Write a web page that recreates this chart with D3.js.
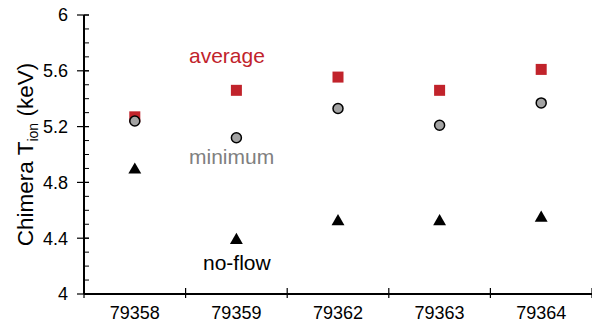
<!DOCTYPE html>
<html>
<head>
<meta charset="utf-8">
<script src="https://cdn.jsdelivr.net/npm/d3@7"></script>
<style>
  body { margin: 0; background: #fff; }
  svg { display: block; font-family: "Liberation Sans", Arial, sans-serif; }
</style>
</head>
<body>
<svg id="chart" width="592" height="326"></svg>
<script>
// Shot numbers and ion temperatures (keV)
const shots = ["79358", "79359", "79362", "79363", "79364"];
const average = [5.27, 5.46, 5.555, 5.46, 5.61];
const minimum = [5.24, 5.12, 5.33, 5.21, 5.37];
const noFlow = [4.89, 4.385, 4.52, 4.52, 4.545];
const yMajorTicks = [4, 4.4, 4.8, 5.2, 5.6, 6];
const yMinorTicks = d3.range(4, 6.0001, 0.1);

const svg = d3.select("#chart");
const plotLeft = 84, plotRight = 592, plotTop = 15, plotBottom = 294;

const x = d3.scaleBand().domain(shots).range([plotLeft, plotRight]);
const y = d3.scaleLinear().domain([4, 6]).range([plotBottom, plotTop]);

// Y axis: minor ticks inside, major ticks across the line
const yAxisG = svg.append("g");
yAxisG.selectAll("line.minor").data(yMinorTicks).join("line")
  .attr("class", "minor")
  .attr("x1", plotLeft).attr("x2", plotLeft + 5)
  .attr("y1", d => y(d)).attr("y2", d => y(d))
  .attr("stroke", "#000").attr("stroke-width", 1);
yAxisG.selectAll("line.major").data(yMajorTicks).join("line")
  .attr("class", "major")
  .attr("x1", plotLeft - 7).attr("x2", plotLeft + 5)
  .attr("y1", d => y(d)).attr("y2", d => y(d))
  .attr("stroke", "#000").attr("stroke-width", 1.2);
yAxisG.append("line")
  .attr("x1", plotLeft).attr("x2", plotLeft)
  .attr("y1", y(6)).attr("y2", y(4))
  .attr("stroke", "#000").attr("stroke-width", 2);
yAxisG.selectAll("text").data(yMajorTicks).join("text")
  .attr("x", 68).attr("y", d => y(d)).attr("dy", "0.35em")
  .attr("text-anchor", "end").attr("font-size", 18).attr("fill", "#000")
  .text(d => d3.format("~g")(d));

// X axis: ticks at category boundaries
const bounds = shots.map(s => x(s)).concat([x(shots[shots.length - 1]) + x.bandwidth()]);
const xAxisG = svg.append("g");
xAxisG.selectAll("line.tick").data(bounds).join("line")
  .attr("class", "tick")
  .attr("x1", d => d).attr("x2", d => d)
  .attr("y1", plotBottom - 6).attr("y2", plotBottom + 4)
  .attr("stroke", "#000").attr("stroke-width", 1.2);
xAxisG.append("line")
  .attr("x1", plotLeft).attr("x2", plotRight)
  .attr("y1", plotBottom).attr("y2", plotBottom)
  .attr("stroke", "#000").attr("stroke-width", 2);
xAxisG.selectAll("text").data(shots).join("text")
  .attr("x", d => x(d) + x.bandwidth() / 2).attr("y", 319)
  .attr("text-anchor", "middle").attr("font-size", 18).attr("fill", "#000")
  .text(d => d);

// Y axis title with subscript
const title = svg.append("text")
  .attr("transform", "translate(33," + ((plotTop + plotBottom) / 2) + ") rotate(-90)")
  .attr("text-anchor", "middle").attr("font-size", 22.5).attr("fill", "#000");
title.append("tspan").text("Chimera T");
title.append("tspan").attr("font-size", 14).attr("dy", 5).text("ion");
title.append("tspan").attr("dy", -5).text(" (keV)");

const cx = d => x(d) + x.bandwidth() / 2;

// Average: red squares
const sq = 11;
svg.append("g").selectAll("rect").data(shots).join("rect")
  .attr("x", d => cx(d) - sq / 2)
  .attr("y", (d, i) => y(average[i]) - sq / 2)
  .attr("width", sq).attr("height", sq)
  .attr("fill", "#c1232b");

// Minimum: grey circles
svg.append("g").selectAll("circle").data(shots).join("circle")
  .attr("cx", cx)
  .attr("cy", (d, i) => y(minimum[i]))
  .attr("r", 5)
  .attr("fill", "#a3a3a3").attr("stroke", "#000").attr("stroke-width", 1.5);

// No-flow: black triangles
const tri = d3.symbol().type(d3.symbolTriangle).size(72);
svg.append("g").selectAll("path").data(shots).join("path")
  .attr("transform", (d, i) => "translate(" + cx(d) + "," + y(noFlow[i]) + ")")
  .attr("d", tri)
  .attr("fill", "#000");

// Series labels
svg.append("text").attr("x", 189).attr("y", 63).attr("font-size", 21)
  .attr("fill", "#c1232b").text("average");
svg.append("text").attr("x", 189).attr("y", 164).attr("font-size", 21)
  .attr("fill", "#808080").text("minimum");
svg.append("text").attr("x", 203).attr("y", 270).attr("font-size", 21)
  .attr("fill", "#000").text("no-flow");
</script>
</body>
</html>
